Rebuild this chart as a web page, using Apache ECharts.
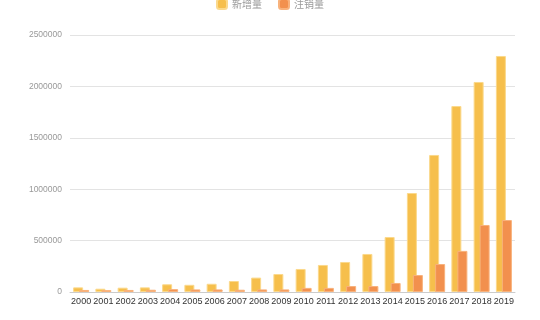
<!DOCTYPE html>
<html><head><meta charset="utf-8">
<script src="https://cdn.jsdelivr.net/npm/echarts@6/dist/echarts.min.js"></script>
<style>html,body{margin:0;padding:0;background:#fff}#c{width:540px;height:320px}</style>
</head><body><div id="c"></div>
<script>
var years = ['2000','2001','2002','2003','2004','2005','2006','2007','2008','2009','2010','2011','2012','2013','2014','2015','2016','2017','2018','2019'];
var added = [45000,32000,42000,45000,75000,70000,80000,107000,140000,175000,224000,263000,292000,370000,535000,963000,1333000,1809000,2043000,2296000];
var cancelled = [20000,18000,20000,22000,28000,25000,25000,22000,25000,25000,40000,40000,58000,58000,88000,165000,272000,400000,652000,700000];
var seriesNames = ['新增量','注销量'];
var chart = echarts.init(document.getElementById('c'));
chart.setOption({
  animation:false,
  legend:{top:-7,left:'center',itemWidth:10,itemHeight:10,itemGap:16,
    textStyle:{fontSize:10,color:'#999',fontFamily:'Noto Sans CJK SC'},
    data:seriesNames},
  grid:{left:70,right:25,top:35,bottom:28},
  xAxis:{type:'category',data:years,
    axisLine:{lineStyle:{color:'#ccc'}},axisTick:{show:false},
    axisLabel:{fontSize:9,color:'#333',interval:0,margin:5,fontFamily:'Liberation Sans'}},
  yAxis:{type:'value',min:0,max:2500000,interval:500000,
    axisLine:{show:false},axisTick:{show:false},
    splitLine:{lineStyle:{color:'#e3e3e3'}},
    axisLabel:{fontSize:8.5,color:'#999',margin:8,fontFamily:'Liberation Sans',
      formatter:function(v){return String(v);}}},
  series:[
    {name:seriesNames[0],type:'bar',data:added,barWidth:10,barGap:'-40%',
      itemStyle:{color:'#F6BF4C',borderColor:'#FBD98C',borderWidth:1}},
    {name:seriesNames[1],type:'bar',data:cancelled,barWidth:10,
      itemStyle:{color:'#F2904E',borderColor:'#F8B27C',borderWidth:1}}
  ]
});
</script></body></html>
